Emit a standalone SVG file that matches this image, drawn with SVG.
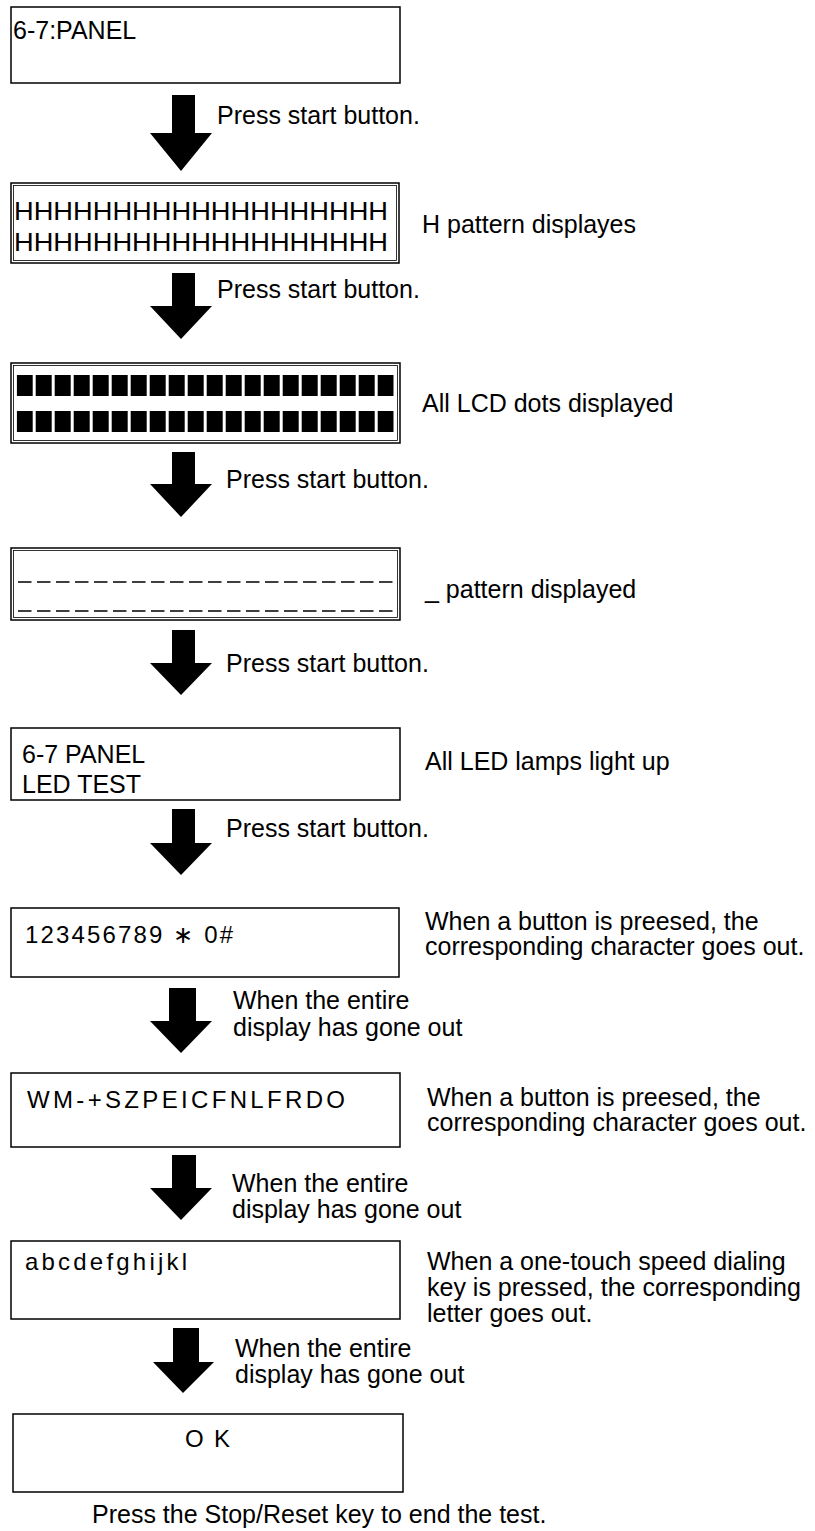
<svg xmlns="http://www.w3.org/2000/svg" width="815" height="1531" viewBox="0 0 815 1531">
<style>
  .box{fill:#fff;stroke:#000;stroke-width:1.5}
  .inner{fill:none;stroke:#000;stroke-width:0.8}
  .t{font-family:"Liberation Sans",Arial,sans-serif;font-size:25px;fill:#000}
  .bt{font-family:"Liberation Sans",Arial,sans-serif;font-size:24px;fill:#000}
  .arr{fill:#000}
  .dash{stroke:#000;stroke-width:1.3;stroke-dasharray:13.5 5.5}
</style>
<defs>
  <pattern id="blk" x="16.7" y="0" width="19" height="1531" patternUnits="userSpaceOnUse">
    <rect x="0" y="0" width="16" height="1531" fill="#000"/>
  </pattern>
</defs>
<rect width="815" height="1531" fill="#fff"/>

<g id="connectors">
  <path class="arr" d="M172,95 H195 V133 H212 L181,171 L150,133 H172 Z"/>
  <path class="arr" d="M172,273 H195 V306 H212 L181,339 L150,306 H172 Z"/>
  <path class="arr" d="M172,452 H195 V484 H212 L181,517 L150,484 H172 Z"/>
  <path class="arr" d="M172,630 H195 V663 H212 L181,695 L150,663 H172 Z"/>
  <path class="arr" d="M172,809 H195 V843 H212 L181,875 L150,843 H172 Z"/>
  <path class="arr" d="M169,988 H196 V1021 H212 L181,1053 L150,1021 H169 Z"/>
  <path class="arr" d="M172,1155 H196 V1188 H212 L181,1220 L150,1188 H172 Z"/>
  <path class="arr" d="M173,1328 H199 V1362 H214 L183,1393 L153,1362 H173 Z"/>
  <text class="t" x="217" y="124">Press start button.</text>
  <text class="t" x="217" y="298">Press start button.</text>
  <text class="t" x="226" y="488">Press start button.</text>
  <text class="t" x="226" y="672">Press start button.</text>
  <text class="t" x="226" y="837">Press start button.</text>
  <text class="t" x="233" y="1009">When the entire</text>
  <text class="t" x="233" y="1036">display has gone out</text>
  <text class="t" x="232" y="1192">When the entire</text>
  <text class="t" x="232" y="1218">display has gone out</text>
  <text class="t" x="235" y="1357">When the entire</text>
  <text class="t" x="235" y="1383">display has gone out</text>
</g>

<g id="n1">
  <rect class="box" x="11" y="7" width="389" height="76"/>
  <text class="t" x="13" y="39" font-size="26">6-7:PANEL</text>
</g>

<g id="n2">
  <rect class="box" x="11" y="183" width="388" height="80"/>
  <rect class="inner" x="13.5" y="185.5" width="383" height="75"/>
  <text class="t" x="14" y="220" textLength="374" lengthAdjust="spacingAndGlyphs">HHHHHHHHHHHHHHHHHHH</text>
  <text class="t" x="14" y="251" textLength="374" lengthAdjust="spacingAndGlyphs">HHHHHHHHHHHHHHHHHHH</text>
  <text class="t" x="422" y="233">H pattern displayes</text>
</g>

<g id="n3">
  <rect class="box" x="11" y="363" width="389" height="80"/>
  <rect class="inner" x="13.5" y="365.5" width="384" height="75"/>
  <rect x="16.7" y="375" width="377" height="21" fill="url(#blk)"/>
  <rect x="16.7" y="411" width="377" height="21" fill="url(#blk)"/>
  <text class="t" x="422" y="412">All LCD dots displayed</text>
</g>

<g id="n4">
  <rect class="box" x="11" y="548" width="389" height="72"/>
  <rect class="inner" x="13.5" y="550.5" width="384" height="67"/>
  <line class="dash" x1="18" y1="582" x2="397" y2="582"/>
  <line class="dash" x1="18" y1="611" x2="397" y2="611"/>
  <text class="t" x="425" y="598">_ pattern displayed</text>
</g>

<g id="n5">
  <rect class="box" x="11" y="728" width="389" height="72" stroke-width="2"/>
  <text class="t" x="22" y="763">6-7 PANEL</text>
  <text class="t" x="22" y="793">LED TEST</text>
  <text class="t" x="425" y="770">All LED lamps light up</text>
</g>

<g id="n6">
  <rect class="box" x="11" y="908" width="388" height="69"/>
  <text class="bt" x="25" y="943" textLength="208" lengthAdjust="spacing">123456789 ∗ 0#</text>
  <text class="t" x="425" y="930">When a button is preesed, the</text>
  <text class="t" x="425" y="955">corresponding character goes out.</text>
</g>

<g id="n7">
  <rect class="box" x="11" y="1073" width="389" height="74"/>
  <text class="bt" x="27" y="1108" textLength="318" lengthAdjust="spacing">WM-+SZPEICFNLFRDO</text>
  <text class="t" x="427" y="1106">When a button is preesed, the</text>
  <text class="t" x="427" y="1131">corresponding character goes out.</text>
</g>

<g id="n8">
  <rect class="box" x="11" y="1241" width="389" height="78"/>
  <text class="bt" x="25" y="1270" textLength="162" lengthAdjust="spacing">abcdefghijkl</text>
  <text class="t" x="427" y="1270">When a one-touch speed dialing</text>
  <text class="t" x="427" y="1296">key is pressed, the corresponding</text>
  <text class="t" x="427" y="1322">letter goes out.</text>
</g>

<g id="n9">
  <rect class="box" x="13" y="1414" width="390" height="78"/>
  <text class="bt" x="185" y="1447" textLength="45" lengthAdjust="spacing">O K</text>
</g>

<g id="footer">
  <text class="t" x="92" y="1523" font-size="26.5">Press the Stop/Reset key to end the test.</text>
</g>
</svg>
